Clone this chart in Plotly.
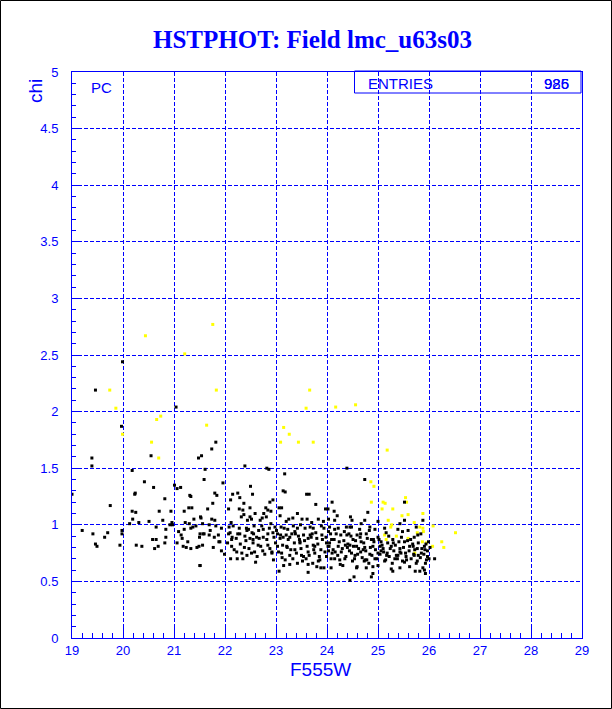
import plotly.graph_objects as go

# ---------------- data ----------------
title_text = "HSTPHOT: Field lmc_u63s03"
x_label = "F555W"
y_label = "chi"
entries_label = "ENTRIES"
entries_value = "985"
entries_value_overlap = "926"
corner_label = "PC"

black_points = [
    (19.46, 2.19), (19.99, 2.44), (21.04, 2.04), (19.97, 1.87), (21.82, 1.73),
    (19.39, 1.59), (20.55, 1.61), (21.48, 1.59), (21.54, 1.61), (19.39, 1.52), (20.18, 1.48),
    (20.42, 1.38), (21.01, 1.35), (21.06, 1.32), (21.13, 1.33), (20.60, 1.33), (20.24, 1.28),
    (20.23, 1.27), (19.00, 1.27), (20.82, 1.23), (21.31, 1.26), (21.33, 1.25), (19.75, 1.17),
    (21.29, 1.15), (21.35, 1.15), (20.18, 1.12), (20.25, 1.11), (20.71, 1.12), (20.94, 1.12),
    (21.20, 1.12), (21.53, 1.06), (21.39, 1.05), (20.19, 1.05), (20.78, 1.04), (20.51, 1.03),
    (20.96, 1.02), (20.31, 1.02), (20.13, 1.01), (21.30, 1.01), (21.22, 1.02), (20.65, 0.98),
    (20.92, 1.00), (20.97, 1.00), (21.43, 0.99), (21.37, 0.98), (21.33, 0.97), (21.20, 0.96),
    (20.84, 0.96), (19.20, 0.95), (19.98, 0.95), (19.70, 0.93), (19.41, 0.92), (19.98, 0.92),
    (21.09, 0.94), (21.14, 0.91), (21.51, 0.92), (21.50, 0.89), (19.64, 0.89), (20.84, 0.89),
    (21.16, 0.88), (20.58, 0.87), (20.65, 0.87), (21.27, 0.85), (21.06, 0.84), (20.82, 0.84),
    (19.46, 0.83), (19.49, 0.81), (19.94, 0.82), (20.26, 0.82), (20.37, 0.81), (20.69, 0.81),
    (20.62, 0.79), (21.18, 0.81), (21.24, 0.80), (21.33, 0.79), (21.45, 0.80), (21.49, 0.81),
    (21.51, 0.64),
    (21.74, 1.67), (22.39, 1.52), (22.82, 1.50), (22.86, 1.49), (21.61, 1.49), (21.59, 1.40),
    (21.96, 1.37), (23.17, 1.45), (22.50, 1.34), (21.80, 1.28), (21.84, 1.26), (22.15, 1.27),
    (22.25, 1.28), (22.54, 1.27), (23.14, 1.30), (23.18, 1.29), (23.60, 1.27), (23.65, 1.27),
    (21.76, 1.19), (22.11, 1.22), (22.29, 1.24), (22.37, 1.19), (22.94, 1.22), (22.88, 1.20),
    (23.78, 1.18), (21.66, 1.14), (22.07, 1.14), (22.28, 1.14), (22.35, 1.13), (22.49, 1.15),
    (22.80, 1.15), (22.84, 1.13), (23.06, 1.15), (23.11, 1.15), (23.97, 1.14), (22.59, 1.10),
    (22.76, 1.10), (22.90, 1.12), (23.42, 1.10), (21.52, 1.07), (21.74, 1.05), (21.80, 1.04),
    (22.32, 1.07), (22.37, 1.09), (22.49, 1.07), (22.52, 1.05), (22.69, 1.04), (22.73, 1.06),
    (22.81, 1.07), (23.08, 1.08), (23.25, 1.05), (23.33, 1.06), (23.51, 1.05), (23.61, 1.05),
    (23.83, 1.05), (24.03, 1.05), (21.56, 1.01), (21.69, 1.00), (21.82, 0.99), (21.93, 0.97),
    (22.08, 0.98), (22.16, 0.99), (22.28, 0.97), (22.42, 0.97), (22.46, 0.96), (22.57, 0.99),
    (22.72, 0.99), (22.75, 0.96), (22.87, 0.97), (22.98, 0.98), (23.10, 0.98), (23.16, 0.97),
    (23.23, 0.96), (23.34, 0.99), (23.42, 0.97), (23.57, 0.97), (23.67, 0.98), (23.73, 0.97),
    (23.89, 0.99), (23.94, 0.97), (21.59, 0.92), (21.69, 0.91), (21.79, 0.89), (21.87, 0.91),
    (22.07, 0.92), (22.14, 0.89), (22.25, 0.92), (22.39, 0.90), (22.49, 0.88), (22.56, 0.92),
    (22.67, 0.88), (22.75, 0.89), (22.84, 0.92), (22.96, 0.89), (23.03, 0.92), (23.08, 0.88),
    (23.20, 0.91), (23.27, 0.89), (23.38, 0.92), (23.46, 0.87), (23.54, 0.91), (23.63, 0.88),
    (23.71, 0.92), (23.80, 0.88), (23.90, 0.91), (23.98, 0.89), (21.56, 0.82), (21.77, 0.80),
    (21.88, 0.85), (21.93, 0.77), (21.99, 0.74), (22.13, 0.81), (22.23, 0.76), (22.33, 0.75),
    (22.38, 0.80), (22.43, 0.73), (22.52, 0.75), (22.55, 0.84), (22.63, 0.72), (22.74, 0.77),
    (22.84, 0.82), (22.92, 0.75), (23.03, 0.81), (23.11, 0.75), (23.12, 0.71), (23.22, 0.80),
    (23.27, 0.73), (23.33, 0.70), (23.37, 0.78), (23.47, 0.84), (23.50, 0.73), (23.59, 0.70),
    (23.63, 0.76), (23.73, 0.82), (23.76, 0.75), (23.83, 0.68), (23.88, 0.78), (23.94, 0.62),
    (23.99, 0.72), (24.02, 0.81), (23.80, 0.63), (23.63, 0.65), (23.27, 0.65), (23.06, 0.59),
    (23.63, 0.58), (22.11, 0.70), (22.24, 0.70), (21.51, 0.64),
    (24.39, 1.50), (24.74, 1.40), (24.10, 1.20), (25.52, 1.20), (24.02, 1.14), (24.14, 1.12),
    (24.20, 1.08), (24.80, 1.11), (24.46, 1.07), (24.15, 1.04), (24.49, 1.04), (24.74, 1.04),
    (25.00, 1.03), (25.52, 1.04), (25.88, 1.04), (24.67, 1.01), (25.43, 1.01), (25.75, 0.98),
    (24.05, 0.98), (24.22, 0.97), (24.38, 0.98), (24.48, 0.98), (24.64, 0.96), (24.84, 0.98),
    (24.94, 0.96), (25.13, 0.97), (25.59, 0.95), (25.39, 0.96), (24.07, 0.92), (24.27, 0.91),
    (24.43, 0.92), (24.59, 0.91), (24.77, 0.92), (25.00, 0.89), (25.21, 0.90), (25.46, 0.89),
    (25.71, 0.89), (25.78, 0.91), (24.14, 0.87), (24.33, 0.86), (24.51, 0.87), (24.67, 0.85),
    (24.87, 0.87), (25.06, 0.85), (25.29, 0.87), (25.52, 0.85), (25.64, 0.87), (24.04, 0.81),
    (24.22, 0.81), (24.40, 0.80), (24.58, 0.81), (24.74, 0.80), (24.90, 0.81), (25.10, 0.79),
    (25.26, 0.81), (25.43, 0.79), (25.62, 0.81), (25.77, 0.79), (25.91, 0.81), (24.10, 0.75),
    (24.28, 0.76), (24.48, 0.75), (24.66, 0.76), (24.84, 0.74), (25.00, 0.75), (25.18, 0.75),
    (25.36, 0.73), (25.54, 0.75), (25.71, 0.73), (25.85, 0.75), (25.97, 0.72), (24.15, 0.70),
    (24.35, 0.70), (24.54, 0.70), (24.75, 0.69), (24.94, 0.70), (25.13, 0.68), (25.33, 0.70),
    (25.52, 0.67), (25.77, 0.68), (25.93, 0.66), (26.11, 0.70), (24.08, 0.62), (24.31, 0.64),
    (24.59, 0.63), (24.77, 0.62), (25.00, 0.64), (25.29, 0.59), (25.43, 0.62), (25.73, 0.59),
    (25.82, 0.59), (25.91, 0.60), (25.93, 0.57), (24.53, 0.54), (24.87, 0.54), (24.45, 0.51),
    (24.90, 0.57),
    (21.57, 0.92), (21.71, 0.95), (21.90, 0.85), (22.13, 0.87), (22.29, 0.92), (22.43, 0.95),
    (22.55, 0.87), (22.65, 0.82), (22.92, 0.76), (23.01, 0.95), (23.14, 0.89), (23.21, 0.81),
    (23.37, 0.94), (23.47, 0.85), (23.54, 0.72), (23.67, 0.91), (23.76, 0.81), (23.86, 0.69),
    (24.03, 0.94), (24.09, 0.87), (24.16, 0.76), (24.25, 0.69), (24.39, 0.91), (24.45, 0.82),
    (24.55, 0.73), (24.65, 0.89), (24.71, 0.78), (24.78, 0.69), (24.91, 0.87), (25.04, 0.81),
    (25.17, 0.73), (25.30, 0.84), (25.43, 0.76), (25.56, 0.69), (25.69, 0.81), (25.79, 0.73),
    (25.92, 0.78), (25.95, 0.69),
    (24.05, 0.84), (24.12, 0.78), (24.18, 0.92), (24.21, 0.73), (24.24, 0.85), (24.30, 0.79),
    (24.34, 0.94), (24.37, 0.72), (24.41, 0.83), (24.44, 0.77), (24.47, 0.90), (24.50, 0.68),
    (24.52, 0.81), (24.56, 0.86), (24.60, 0.74), (24.62, 0.79), (24.66, 0.92), (24.69, 0.71),
    (24.72, 0.84), (24.76, 0.77), (24.79, 0.88), (24.82, 0.66), (24.85, 0.80), (24.88, 0.73),
    (24.92, 0.85), (24.95, 0.78), (24.98, 0.70), (25.02, 0.87), (25.04, 0.74), (25.08, 0.82),
    (25.11, 0.76), (25.15, 0.69), (25.19, 0.84), (25.22, 0.72), (25.24, 0.79), (25.28, 0.66),
    (25.31, 0.77), (25.34, 0.82), (25.38, 0.70), (25.41, 0.85), (25.45, 0.75), (25.48, 0.68),
    (25.50, 0.80), (25.55, 0.72), (25.58, 0.86), (25.61, 0.77), (25.65, 0.70), (25.68, 0.83),
    (25.72, 0.78), (25.75, 0.66), (25.79, 0.84), (25.83, 0.71), (25.86, 0.79), (25.90, 0.74),
    (25.94, 0.83), (25.97, 0.77), (26.00, 0.70), (26.02, 0.80), (24.08, 0.70), (24.26, 0.65),
    (24.58, 0.62), (24.90, 0.63), (25.26, 0.61), (25.62, 0.63), (25.88, 0.62), (24.15, 0.96),
    (24.45, 0.98), (24.83, 0.95), (25.16, 0.93), (25.48, 0.94), (25.84, 0.92), (24.03, 0.77),
    (24.36, 0.82), (24.73, 0.68), (25.06, 0.77), (25.39, 0.73), (25.70, 0.74), (25.99, 0.85),
    (22.05, 0.84), (22.10, 0.93), (22.18, 0.78), (22.22, 0.88), (22.30, 0.83), (22.35, 0.70),
    (22.41, 0.86), (22.47, 0.79), (22.53, 0.93), (22.58, 0.76), (22.62, 0.89), (22.70, 0.81),
    (22.78, 0.74), (22.82, 0.87), (22.88, 0.79), (22.94, 0.93), (22.99, 0.84), (23.05, 0.76),
    (23.09, 0.91), (23.13, 0.82), (23.18, 0.69), (23.24, 0.87), (23.29, 0.78), (23.31, 0.92),
    (23.36, 0.84), (23.40, 0.75), (23.44, 0.90), (23.49, 0.79), (23.52, 0.68), (23.56, 0.86),
    (23.61, 0.81), (23.65, 0.73), (23.69, 0.89), (23.74, 0.78), (23.78, 0.93), (23.82, 0.83),
    (23.85, 0.72), (23.91, 0.87), (23.96, 0.76), (23.99, 0.84), (22.12, 1.02), (22.44, 1.04),
    (22.66, 0.95), (22.90, 1.01), (23.20, 1.03), (23.48, 1.00), (23.70, 1.02), (23.93, 1.03),
    (23.15, 0.64), (23.42, 0.66), (23.72, 0.66), (23.88, 0.62), (22.95, 0.69), (22.60, 0.67),
]

yellow_points = [
    (21.76, 2.77), (20.44, 2.67), (21.21, 2.51), (19.74, 2.19), (21.83, 2.19), (23.66, 2.19),
    (19.86, 2.03), (23.59, 2.03), (24.17, 2.04), (24.56, 2.06), (20.74, 1.96), (20.66, 1.93),
    (21.64, 1.88), (19.99, 1.80), (20.56, 1.73), (23.15, 1.86), (23.26, 1.80), (23.09, 1.73),
    (23.44, 1.73), (23.73, 1.73), (20.70, 1.59),
    (25.18, 1.66), (24.86, 1.38), (24.92, 1.34), (24.87, 1.20), (25.10, 1.20), (25.14, 1.19),
    (25.54, 1.24), (25.56, 1.20), (25.08, 1.14), (25.29, 1.14), (25.59, 1.09), (25.47, 1.08),
    (25.88, 1.10), (25.20, 1.04), (25.27, 1.00), (25.71, 1.02), (25.82, 0.98), (25.88, 0.97),
    (26.08, 0.99), (26.52, 0.93), (25.25, 0.98), (25.36, 0.90), (25.59, 0.88), (25.87, 0.85),
    (25.95, 0.84), (26.25, 0.85), (26.29, 0.80), (26.07, 0.81), (25.13, 0.91), (25.72, 0.75),
    (25.16, 0.87), (25.77, 0.93), (25.89, 0.94),
]

black_x = [p[0] for p in black_points]
black_y = [p[1] for p in black_points]
yellow_x = [p[0] for p in yellow_points]
yellow_y = [p[1] for p in yellow_points]

# ---------------- layout helpers ----------------
W, H = 612, 709
L, R, T, B = 72, 582, 72, 638   # plot-area pixel edges
BLUE = "#0000ff"


def px(xpix):
    return (xpix - L) / (R - L)


def py(ypix):
    return (B - ypix) / (B - T)


fig = go.Figure()
fig.add_trace(go.Scatter(
    x=yellow_x, y=yellow_y, mode="markers",
    marker=dict(symbol="square", size=3, color="#ffff00", line=dict(width=0)),
    hoverinfo="skip", showlegend=False,
))
fig.add_trace(go.Scatter(
    x=black_x, y=black_y, mode="markers",
    marker=dict(symbol="square", size=3, color="#000000", line=dict(width=0)),
    hoverinfo="skip", showlegend=False,
))

axis_font = dict(family="Liberation Sans, Arial, sans-serif", size=13, color=BLUE)

fig.update_xaxes(
    range=[19, 29], dtick=1, tick0=19,
    showgrid=True, gridcolor=BLUE, gridwidth=1, griddash="4px,2px",
    zeroline=False, showline=True, linecolor=BLUE, linewidth=1, mirror=True,
    ticks="inside", ticklen=10, tickcolor=BLUE, tickwidth=1,
    minor=dict(dtick=0.2, ticks="inside", ticklen=5, tickcolor=BLUE, showgrid=False),
    tickfont=axis_font, ticklabelstandoff=0,
)
fig.update_yaxes(
    range=[0, 5], dtick=0.5, tick0=0,
    showgrid=True, gridcolor=BLUE, gridwidth=1, griddash="4px,2px",
    zeroline=False, showline=True, linecolor=BLUE, linewidth=1, mirror=True,
    ticks="inside", ticklen=8, tickcolor=BLUE, tickwidth=1,
    minor=dict(dtick=0.1, ticks="inside", ticklen=4, tickcolor=BLUE, showgrid=False),
    tickfont=axis_font, ticklabelstandoff=10,
)

annotations = [
    dict(text=f"<b>{title_text}</b>", x=px(312), y=py(39), xref="paper", yref="paper",
         showarrow=False, xanchor="center", yanchor="middle",
         font=dict(family="Liberation Serif, Times New Roman, serif", size=25, color=BLUE)),
    dict(text=x_label, x=px(320), y=py(669), xref="paper", yref="paper",
         showarrow=False, xanchor="center", yanchor="middle",
         font=dict(family="Liberation Sans, Arial, sans-serif", size=19, color=BLUE)),
    dict(text=y_label, x=px(36), y=py(77), xref="paper", yref="paper",
         showarrow=False, xanchor="center", yanchor="top", textangle=-90,
         font=dict(family="Liberation Sans, Arial, sans-serif", size=19, color=BLUE)),
    dict(text=corner_label, x=px(89), y=py(88), xref="paper", yref="paper",
         showarrow=False, xanchor="left", yanchor="middle",
         font=dict(family="Liberation Sans, Arial, sans-serif", size=15, color=BLUE)),
    dict(text=entries_label, x=px(366), y=py(83), xref="paper", yref="paper",
         showarrow=False, xanchor="left", yanchor="middle",
         font=dict(family="Liberation Sans, Arial, sans-serif", size=15, color=BLUE)),
    dict(text=entries_value_overlap, x=px(571), y=py(83), xref="paper", yref="paper",
         showarrow=False, xanchor="right", yanchor="middle",
         font=dict(family="Liberation Sans, Arial, sans-serif", size=15, color=BLUE)),
    dict(text=entries_value, x=px(571), y=py(83), xref="paper", yref="paper",
         showarrow=False, xanchor="right", yanchor="middle",
         font=dict(family="Liberation Sans, Arial, sans-serif", size=15, color=BLUE)),
]

shapes = [
    # stats box
    dict(type="rect", xref="paper", yref="paper",
         x0=px(354.5), x1=px(581), y0=py(93), y1=py(71),
         line=dict(color=BLUE, width=1), fillcolor="rgba(255,255,255,0)"),
    # outer canvas border
    dict(type="rect", xref="paper", yref="paper",
         x0=px(0.5), x1=px(611.5), y0=py(708.5), y1=py(0.5),
         line=dict(color="#000000", width=1), fillcolor="rgba(0,0,0,0)"),
]

fig.update_layout(
    width=W, height=H,
    margin=dict(l=L, r=W - R, t=T, b=H - B, pad=0),
    paper_bgcolor="white", plot_bgcolor="white",
    showlegend=False,
    annotations=annotations, shapes=shapes,
)

fig.write_html(
    "out.html",
    config={"displayModeBar": False},
    post_script="document.body.style.margin='0';document.body.style.padding='0';"
                "document.body.style.overflow='hidden';",
)
